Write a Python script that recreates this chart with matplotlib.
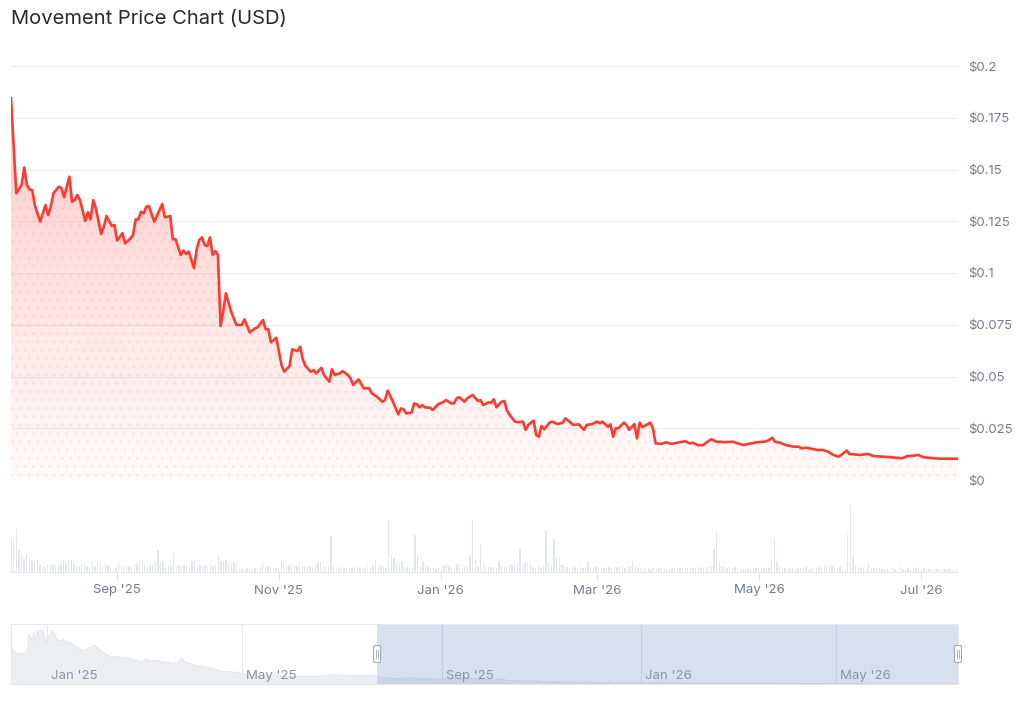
import matplotlib
matplotlib.use("Agg")
import matplotlib.dates as mdates
import matplotlib.pyplot as plt
import numpy as np
import pandas as pd
from matplotlib.lines import Line2D
from matplotlib.patches import FancyBboxPatch
from matplotlib.transforms import IdentityTransform, blended_transform_factory

# ---------------------------------------------------------------------------
# Data
# ---------------------------------------------------------------------------

START = pd.Timestamp("2025-07-23")
END = pd.Timestamp("2026-07-15")
NAV_START = pd.Timestamp("2024-12-10")

# days since START
price_day = [
    0, 2, 4, 5, 6, 7, 8, 9, 11, 13, 14, 15, 16, 18, 19, 20, 22, 23, 24, 25,
    26, 28, 29, 30, 31, 32, 34, 35, 36, 38, 39, 40, 42, 43, 45, 46, 47, 48, 49, 50,
    51, 52, 54, 57, 58, 60, 61, 62, 64, 65, 66, 67, 69, 70, 71, 72, 73, 74, 75, 76,
    77, 78, 79, 80, 81, 83, 84, 85, 87, 88, 90, 92, 93, 95, 96, 97, 98, 100, 102, 103,
    105, 106, 108, 109, 110, 111, 113, 114, 115, 117, 118, 120, 121, 122, 123, 124, 125, 127, 128, 129,
    131, 133, 135, 136, 138, 140, 141, 142, 144, 146, 147, 148, 149, 151, 152, 153, 154, 155, 156, 158,
    159, 161, 163, 164, 166, 167, 168, 169, 171, 172, 174, 176, 177, 178, 180, 181, 182, 183, 185, 186,
    187, 188, 190, 191, 193, 194, 195, 197, 198, 199, 200, 201, 203, 204, 206, 208, 209, 211, 212, 214,
    216, 217, 219, 221, 222, 223, 225, 226, 227, 228, 229, 231, 232, 233, 235, 236, 237, 238, 240, 241,
    242, 243, 245, 247, 249, 251, 254, 256, 257, 259, 261, 262, 264, 266, 269, 272, 274, 276, 278, 281,
    284, 285, 287, 288, 290, 292, 295, 297, 298, 300, 302, 304, 306, 308, 310, 312, 313, 315, 316, 320,
    323, 325, 328, 331, 333, 336, 338, 340, 342, 344, 347, 350, 353, 357,
]
price_usd = [
    0.1844, 0.1385, 0.1425, 0.1510, 0.1425, 0.1404, 0.1400, 0.1328, 0.1248, 0.1328,
    0.1280, 0.1320, 0.1385, 0.1417, 0.1410, 0.1366, 0.1465, 0.1344, 0.1352, 0.1377,
    0.1352, 0.1252, 0.1293, 0.1259, 0.1352, 0.1312, 0.1188, 0.1223, 0.1275, 0.1227,
    0.1232, 0.1156, 0.1192, 0.1143, 0.1167, 0.1183, 0.1259, 0.1259, 0.1296, 0.1288,
    0.1320, 0.1323, 0.1248, 0.1333, 0.1269, 0.1275, 0.1163, 0.1163, 0.1087, 0.1108,
    0.1092, 0.1103, 0.1023, 0.1114, 0.1160, 0.1172, 0.1135, 0.1130, 0.1172, 0.1087,
    0.1106, 0.1087, 0.0744, 0.0813, 0.0902, 0.0813, 0.0781, 0.0749, 0.0749, 0.0776,
    0.0713, 0.0733, 0.0738, 0.0773, 0.0728, 0.0728, 0.0665, 0.0687, 0.0555, 0.0523,
    0.0551, 0.0631, 0.0623, 0.0644, 0.0583, 0.0551, 0.0523, 0.0531, 0.0515, 0.0542,
    0.0507, 0.0475, 0.0535, 0.0507, 0.0512, 0.0515, 0.0526, 0.0507, 0.0491, 0.0459,
    0.0486, 0.0443, 0.0443, 0.0419, 0.0402, 0.0378, 0.0386, 0.0432, 0.0378, 0.0317,
    0.0346, 0.0341, 0.0322, 0.0325, 0.0370, 0.0366, 0.0351, 0.0362, 0.0351, 0.0349,
    0.0338, 0.0366, 0.0377, 0.0386, 0.0370, 0.0370, 0.0395, 0.0400, 0.0378, 0.0395,
    0.0411, 0.0382, 0.0386, 0.0362, 0.0375, 0.0373, 0.0390, 0.0351, 0.0378, 0.0382,
    0.0335, 0.0314, 0.0282, 0.0279, 0.0282, 0.0242, 0.0266, 0.0287, 0.0217, 0.0209,
    0.0261, 0.0245, 0.0277, 0.0282, 0.0270, 0.0277, 0.0298, 0.0277, 0.0266, 0.0269,
    0.0242, 0.0266, 0.0270, 0.0282, 0.0274, 0.0282, 0.0257, 0.0269, 0.0209, 0.0250,
    0.0250, 0.0277, 0.0266, 0.0242, 0.0270, 0.0201, 0.0277, 0.0255, 0.0270, 0.0277,
    0.0250, 0.0177, 0.0174, 0.0182, 0.0174, 0.0180, 0.0187, 0.0177, 0.0180, 0.0168,
    0.0169, 0.0180, 0.0197, 0.0185, 0.0183, 0.0185, 0.0177, 0.0169, 0.0174, 0.0182,
    0.0185, 0.0188, 0.0204, 0.0185, 0.0180, 0.0169, 0.0161, 0.0161, 0.0153, 0.0156,
    0.0150, 0.0145, 0.0145, 0.0137, 0.0121, 0.0113, 0.0121, 0.0142, 0.0126, 0.0121,
    0.0126, 0.0116, 0.0113, 0.0111, 0.0108, 0.0105, 0.0116, 0.0117, 0.0121, 0.0110,
    0.0106, 0.0103, 0.0103, 0.0103,
]

# daily volume, relative units (no axis shown)
volume_rel = [
    34, 31, 43, 22, 18, 13, 17, 14, 11, 10, 12, 7, 6, 5, 8, 7, 8, 7, 7, 8,
    12, 9, 11, 12, 8, 6, 6, 8, 8, 6, 5, 10, 6, 9, 8, 6, 8, 7, 4, 3,
    4, 8, 7, 6, 7, 6, 5, 7, 8, 11, 12, 8, 6, 7, 7, 10, 22, 10, 11, 6,
    7, 6, 18, 6, 7, 6, 7, 6, 6, 11, 12, 6, 7, 6, 7, 6, 7, 6, 7, 16,
    11, 11, 12, 10, 8, 10, 9, 3, 3, 3, 4, 4, 3, 4, 2, 4, 8, 6, 6, 6,
    4, 4, 4, 12, 9, 6, 7, 8, 7, 6, 10, 6, 6, 5, 6, 4, 6, 10, 10, 6,
    6, 6, 36, 8, 5, 4, 5, 4, 4, 4, 4, 5, 5, 4, 4, 4, 5, 4, 7, 12,
    6, 7, 6, 4, 52, 18, 14, 9, 8, 11, 6, 5, 4, 4, 37, 17, 6, 11, 6, 6,
    4, 4, 3, 4, 5, 6, 8, 6, 5, 4, 8, 6, 4, 5, 6, 16, 52, 12, 6, 28,
    10, 6, 5, 5, 5, 4, 10, 7, 5, 6, 7, 7, 7, 8, 23, 7, 10, 9, 8, 5,
    4, 6, 4, 6, 42, 10, 6, 33, 15, 14, 7, 6, 5, 4, 4, 5, 4, 5, 4, 5,
    10, 5, 5, 6, 4, 5, 4, 4, 5, 4, 5, 5, 5, 6, 4, 5, 6, 11, 5, 4,
    4, 4, 4, 4, 3, 4, 3, 4, 4, 3, 3, 3, 4, 4, 4, 4, 4, 4, 4, 4,
    4, 4, 5, 4, 4, 5, 6, 6, 23, 41, 10, 6, 5, 4, 5, 4, 5, 4, 4, 3,
    4, 3, 3, 3, 4, 4, 3, 4, 4, 4, 12, 34, 10, 7, 4, 4, 4, 4, 4, 3,
    4, 4, 4, 5, 3, 3, 4, 4, 5, 4, 7, 6, 5, 7, 6, 4, 6, 3, 3, 37,
    66, 17, 6, 5, 4, 4, 3, 10, 4, 4, 4, 4, 3, 3, 3, 3, 4, 3, 3, 5,
    3, 3, 4, 3, 3, 4, 5, 3, 4, 3, 3, 3, 3, 3, 3, 3, 3, 3, 3, 3, 3, 3,
]

# earlier history shown only in the navigator, days since NAV_START
history_day = [
    0, 1, 3, 5, 8, 10, 11, 13, 14, 15, 16, 17, 19, 21, 22, 24, 25, 27, 28, 30,
    32, 34, 36, 38, 40, 42, 44, 47, 49, 51, 54, 56, 58, 60, 63, 66, 69, 72, 75, 78,
    80, 83, 86, 90, 93, 96, 99, 102, 105, 107, 110, 114, 118, 121, 124, 129, 133, 137, 141, 145,
    151, 157, 164, 170, 178, 186, 194, 199, 205, 211, 217, 222,
]
history_usd = [
    0.79, 0.78, 0.69, 0.67, 0.685, 0.67, 1.10, 0.95, 1.13, 0.92, 1.17, 1.13, 1.20, 1.03, 0.92, 1.10,
    1.17, 1.10, 0.99, 0.95, 0.99, 0.92, 0.93, 0.88, 0.81, 0.78, 0.74, 0.78, 0.81, 0.85, 0.78, 0.71,
    0.67, 0.62, 0.60, 0.61, 0.58, 0.58, 0.54, 0.53, 0.49, 0.56, 0.51, 0.53, 0.49, 0.49, 0.46, 0.47,
    0.58, 0.49, 0.46, 0.41, 0.39, 0.37, 0.35, 0.29, 0.28, 0.27, 0.245, 0.22, 0.21, 0.19, 0.195, 0.175,
    0.175, 0.175, 0.195, 0.21, 0.20, 0.19, 0.195, 0.20,
]

# ---------------------------------------------------------------------------
# Styling
# ---------------------------------------------------------------------------

W, H = 1024, 701
LINE_RED = "#ff3b30"
LABEL = "#737d8c"
GRID = "#ededed"

plt.rcParams["font.family"] = ["Inter", "DejaVu Sans"]


def month_label(x, pos=None):
    return mdates.num2date(x).strftime("%b '%y")


def px_axes(fig, x0, y0, x1, y1):
    return fig.add_axes([x0 / W, 1 - y1 / H, (x1 - x0) / W, (y1 - y0) / H])


fig = plt.figure(figsize=(W / 100, H / 100), dpi=100)
fig.text(11 / W, 1 - 19 / H, "Movement Price Chart (USD)", fontsize=14.5,
         color="#262b34", ha="left", va="center")

ax = px_axes(fig, 11, 66, 958, 480)
ax_vol = px_axes(fig, 11, 505, 958, 572)
ax_nav = px_axes(fig, 11, 624, 958, 684)

# --- price panel -----------------------------------------------------------
dates = START + pd.to_timedelta(price_day, unit="D")
prices = np.array(price_usd)

poly = ax.fill_between(dates, prices, 0, color="none", lw=0)
grad = np.zeros((256, 1, 4))
grad[:, 0, 0] = 1.0
grad[:, 0, 1] = 0.23
grad[:, 0, 2] = 0.19
grad[:, 0, 3] = np.linspace(0.02, 0.27, 256)
im = ax.imshow(grad, extent=[mdates.date2num(START), mdates.date2num(END), 0, prices.max()],
               origin="lower", aspect="auto", zorder=1, interpolation="bilinear")
im.set_clip_path(poly.get_paths()[0], transform=ax.transData)
ax.fill_between(dates, prices, 0, facecolor="none", edgecolor=(1, 0.3, 0.3, 0.08),
                hatch="..", lw=0, zorder=2)
ax.plot(dates, prices, color=LINE_RED, lw=1.9, solid_joinstyle="round", zorder=3)

ax.set_xlim(START, END)
ax.set_ylim(0, 0.2)
yt = np.round(np.arange(0, 0.2001, 0.025), 3)
ax.set_yticks(yt)
ax.set_yticklabels([f"${v:g}" for v in yt])
ax.yaxis.tick_right()
ax.tick_params(axis="y", length=0, pad=7, labelsize=9.5, labelcolor=LABEL)
ax.tick_params(axis="x", bottom=False, labelbottom=False)
ax.grid(axis="y", color=GRID, lw=0.8)
ax.set_axisbelow(True)
for s in ax.spines.values():
    s.set_visible(False)

# --- volume panel ----------------------------------------------------------
vol_dates = pd.date_range(START, END, periods=len(volume_rel))
ax_vol.bar(vol_dates, volume_rel, width=0.5, color="#e3e6ed", lw=0)
ax_vol.set_xlim(START, END)
ax_vol.set_ylim(0, 67)
ax_vol.set_yticks([])
ax_vol.xaxis.set_major_locator(mdates.MonthLocator(bymonth=[1, 3, 5, 7, 9, 11]))
ax_vol.xaxis.set_major_formatter(plt.FuncFormatter(month_label))
ax_vol.tick_params(axis="x", length=6, width=0.8, color="#dde1e8", pad=3,
                   labelsize=9.5, labelcolor=LABEL)
for name, s in ax_vol.spines.items():
    s.set_visible(name == "bottom")
ax_vol.spines["bottom"].set_color("#e6e8ee")

# --- navigator -------------------------------------------------------------
nav_dates = (NAV_START + pd.to_timedelta(history_day, unit="D")).append(dates)
nav_prices = np.concatenate([history_usd, prices])
nav_min, nav_max = nav_prices.min(), nav_prices.max()
ax_nav.fill_between(nav_dates, nav_prices, nav_min, color="#eceef2", lw=0, zorder=1)
ax_nav.plot(nav_dates, nav_prices, color="#e1e4ea", lw=0.7, zorder=1)
ax_nav.axvspan(START, END, color=(102 / 255, 133 / 255, 194 / 255), alpha=0.25, lw=0, zorder=2)
ax_nav.set_xlim(NAV_START, END)
ax_nav.set_ylim(nav_min, nav_min + (nav_max - nav_min) * 1.1)
ax_nav.set_yticks([])
ax_nav.xaxis.set_major_locator(mdates.MonthLocator(bymonth=[1, 5, 9]))
ax_nav.tick_params(axis="x", length=0, labelbottom=False)
ax_nav.grid(axis="x", color="#e3e6ec", lw=0.8)
ax_nav.set_axisbelow(True)
for s in ax_nav.spines.values():
    s.set_color("#e4e7ec")
    s.set_linewidth(0.8)

trans = blended_transform_factory(ax_nav.transData, ax_nav.transAxes)
lo, hi = ax_nav.get_xlim()
for t in ax_nav.get_xticks():
    if lo <= t <= hi:
        ax_nav.annotate(month_label(t), xy=(t, 0), xycoords=trans, xytext=(3, 6),
                        textcoords="offset points", ha="left", va="center",
                        fontsize=9.5, color="#8c95a3", zorder=3)

# navigator handles
yc = ax_nav.transAxes.transform((0, 0.5))[1]
for d in (START, END):
    xd = ax_nav.transData.transform((mdates.date2num(d), 0))[0]
    fig.add_artist(FancyBboxPatch((xd - 3.5, yc - 8.5), 7, 17,
                                  boxstyle="round,pad=0,rounding_size=1.5",
                                  transform=IdentityTransform(), fc="white",
                                  ec="#a0a6b0", lw=0.8, zorder=5))
    for dx in (-1.2, 1.2):
        fig.add_artist(Line2D([xd + dx, xd + dx], [yc - 4, yc + 4], color="#a0a6b0",
                              lw=0.6, transform=IdentityTransform(), zorder=6))

fig.savefig("out.png", dpi=100)
